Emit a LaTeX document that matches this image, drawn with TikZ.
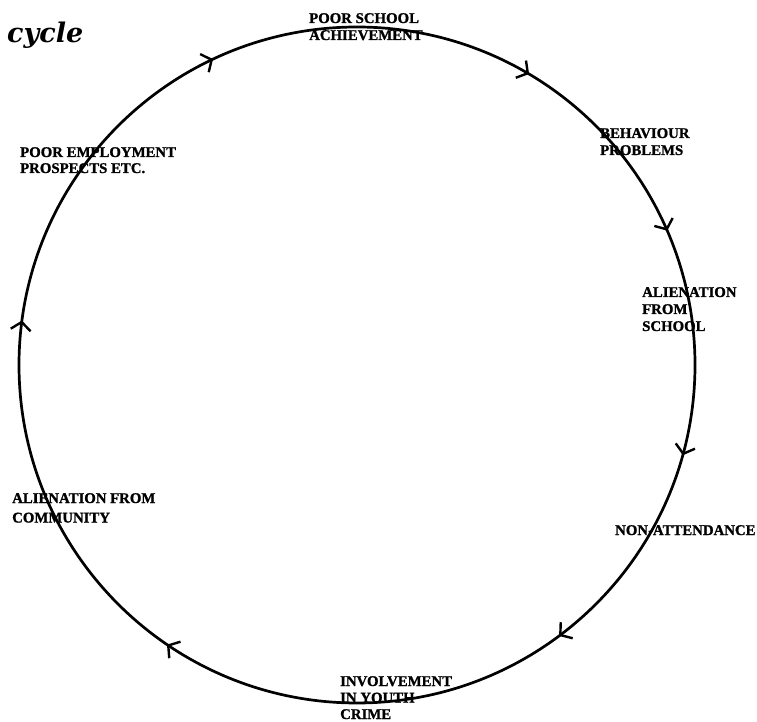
\documentclass[tikz,border=0pt]{standalone}
\usepackage{fontspec}
\setmainfont{Liberation Serif}[BoldFeatures={FakeBold=1.2}]
\newfontfamily\cyclefont{DejaVu Serif}
\usetikzlibrary{arrows.meta,decorations.markings}
\tikzset{
  lbl/.style={anchor=north west, inner sep=0pt, align=left,
    font=\bfseries\fontsize{14.8}{17}\selectfont},
  ring/.style={line width=2.7pt}
}
\newcommand{\cyctip}{\arrow{Straight Barb[length=8pt,width=20pt,line width=2.4pt]}}
\begin{document}
\begin{tikzpicture}[x=1pt,y=1pt]
\useasboundingbox (0,0) rectangle (757,721);
\coordinate (c) at (357,356);
\draw[ring, postaction={decorate}, decoration={markings,
  mark=at position 0.085 with {\cyctip},
  mark=at position 0.185 with {\cyctip},
  mark=at position 0.293 with {\cyctip},
  mark=at position 0.398 with {\cyctip},
  mark=at position 0.595 with {\cyctip},
  mark=at position 0.771 with {\cyctip},
  mark=at position 0.930 with {\cyctip}}]
  (c) ++(90:338) arc[start angle=90, end angle=-270, radius=338];

\node[anchor=base west, inner sep=0pt, font=\cyclefont\bfseries\itshape\fontsize{27}{30}\selectfont] (title) at (7,678) {cycle};

\node[lbl] (school) at (309,708) {POOR SCHOOL\\ACHIEVEMENT};
\node[lbl] (behav) at (600,593) {BEHAVIOUR\\PROBLEMS};
\node[lbl] (alsch) at (642,434) {ALIENATION\\FROM\\SCHOOL};
\node[lbl] (nonatt) at (615,196) {NON-ATTENDANCE};
\node[lbl, font=\bfseries\fontsize{14.8}{16.5}\selectfont] (crime) at (340,45) {INVOLVEMENT\\IN YOUTH\\CRIME};
\node[lbl, font=\bfseries\fontsize{14.8}{19.5}\selectfont] (alcom) at (12,228) {ALIENATION FROM\\COMMUNITY};
\node[lbl, font=\bfseries\fontsize{14.8}{16}\selectfont] (employ) at (20,574) {POOR EMPLOYMENT\\PROSPECTS ETC.};
\end{tikzpicture}
\end{document}
